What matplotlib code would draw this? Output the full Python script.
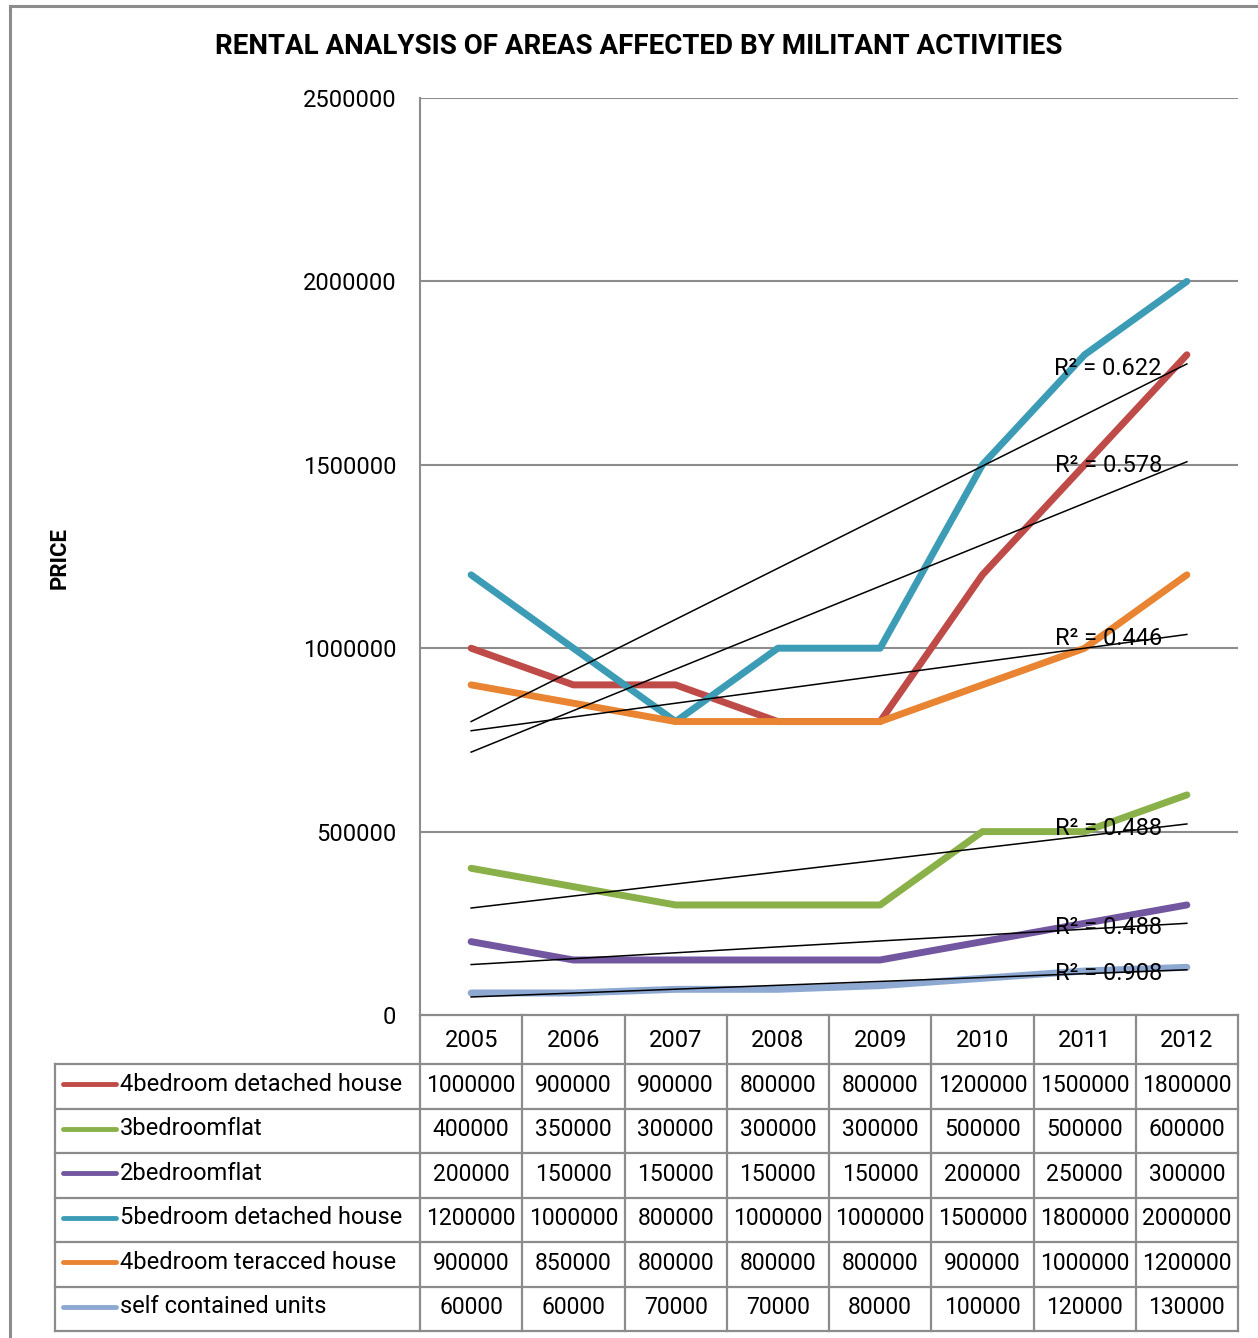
import numpy as np
import matplotlib.pyplot as plt
from matplotlib.lines import Line2D

plt.rcParams['font.family'] = ['Roboto', 'DejaVu Sans']

years = ['2005', '2006', '2007', '2008', '2009', '2010', '2011', '2012']
series_names = ['4bedroom detached house', '3bedroomflat', '2bedroomflat',
                '5bedroom detached house', '4bedroom teracced house', 'self contained units']
detached4 = [1000000, 900000, 900000, 800000, 800000, 1200000, 1500000, 1800000]
flat3 = [400000, 350000, 300000, 300000, 300000, 500000, 500000, 600000]
flat2 = [200000, 150000, 150000, 150000, 150000, 200000, 250000, 300000]
detached5 = [1200000, 1000000, 800000, 1000000, 1000000, 1500000, 1800000, 2000000]
terraced4 = [900000, 850000, 800000, 800000, 800000, 900000, 1000000, 1200000]
self_units = [60000, 60000, 70000, 70000, 80000, 100000, 120000, 130000]
r2_labels = ['0.578', '0.488', '0.488', '0.622', '0.446', '0.908']
colors = ['#BE4B48', '#8AB04A', '#7256A0', '#3C9CB6', '#E88432', '#8DA9D2']

all_series = [detached4, flat3, flat2, detached5, terraced4, self_units]

W, H = 1258, 1338
fig = plt.figure(figsize=(W / 100, H / 100), dpi=100)

def fx(px):
    return px / W

def fy(py):
    return 1 - py / H

# outer chart border
fig.add_artist(Line2D([fx(10), fx(10)], [fy(6), fy(H + 5)], color='#8c8c8c', lw=2.2))
fig.add_artist(Line2D([fx(10), fx(W + 5)], [fy(6), fy(6)], color='#8c8c8c', lw=2.2))

left, right, top, bottom = 420, 1238, 98, 1015
ax = fig.add_axes([fx(left), fy(bottom), fx(right - left), (bottom - top) / H])

x = np.arange(len(years))
for vals, c in zip(all_series, colors):
    ax.plot(x, vals, color=c, lw=5, solid_capstyle='round', solid_joinstyle='round', zorder=3)

for vals, lab in zip(all_series, r2_labels):
    k, b = np.polyfit(x, vals, 1)
    ax.plot([x[0], x[-1]], [b, b + k * x[-1]], color='black', lw=1.1, zorder=4)
    ax.annotate('R² = ' + lab, (6.23, b + k * x[-1]), xytext=(0, -3),
                textcoords='offset points', ha='center', va='center',
                fontsize=17, zorder=5)

ax.set_xlim(-0.5, len(years) - 0.5)
ax.set_ylim(0, 2500000)
ax.set_yticks(np.arange(0, 2500001, 500000))
ax.set_yticklabels([str(v) for v in range(0, 2500001, 500000)], fontsize=17)
ax.set_xticks([])
ax.tick_params(axis='y', length=0, pad=17)
for v in range(500000, 2500001, 500000):
    ax.axhline(v, color='#8c8c8c', lw=1.5, zorder=1)
for s in ['right', 'bottom', 'top']:
    ax.spines[s].set_visible(False)
ax.spines['left'].set_color('#8c8c8c')
ax.spines['left'].set_linewidth(1.5)

fig.text(fx(639), fy(47), 'RENTAL ANALYSIS OF AREAS AFFECTED BY MILITANT ACTIVITIES',
         ha='center', va='center', fontsize=20, fontweight='bold')
fig.text(fx(60), fy(558), 'PRICE', rotation=90, ha='center', va='center',
         fontsize=16, fontweight='bold')

# data table
grid_c = '#8c8c8c'
colw = (right - left) / len(years)
head_top, head_bot = bottom, 1064
row_h = (1331 - head_bot) / len(series_names)
label_left = 55

def hline(y, x0, x1):
    fig.add_artist(Line2D([fx(x0), fx(x1)], [fy(y), fy(y)], color=grid_c, lw=1.6))

def vline(xp, y0, y1):
    fig.add_artist(Line2D([fx(xp), fx(xp)], [fy(y0), fy(y1)], color=grid_c, lw=1.6))

hline(head_top, left, right)
for i in range(len(series_names) + 1):
    hline(head_bot + i * row_h, label_left, right)
for j in range(len(years) + 1):
    vline(left + j * colw, head_top, 1331)
vline(label_left, head_bot, 1331)

for j, yr in enumerate(years):
    fig.text(fx(left + (j + 0.5) * colw), fy((head_top + head_bot) / 2 + 1), yr,
             ha='center', va='center', fontsize=17)

for i, (name, vals, c) in enumerate(zip(series_names, all_series, colors)):
    yc = head_bot + (i + 0.5) * row_h - 2
    fig.add_artist(Line2D([fx(63), fx(116)], [fy(yc), fy(yc)], color=c, lw=3.5,
                          solid_capstyle='round'))
    fig.text(fx(120), fy(yc), name, ha='left', va='center', fontsize=17)
    for j, v in enumerate(vals):
        fig.text(fx(left + (j + 0.5) * colw), fy(yc + 1), str(v),
                 ha='center', va='center', fontsize=16.5)

fig.savefig('out.png', dpi=100)
